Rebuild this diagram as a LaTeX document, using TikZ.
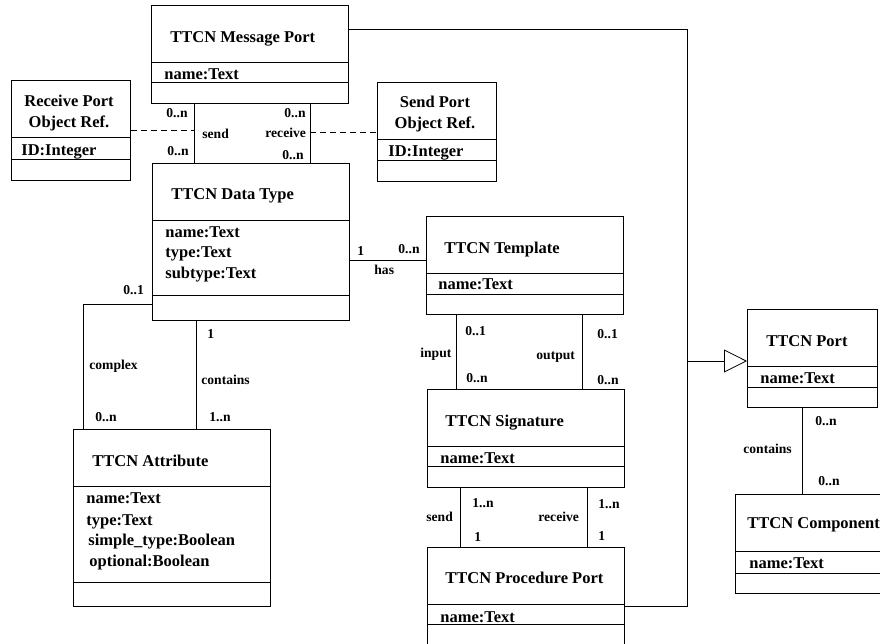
\documentclass[tikz,border=0pt]{standalone}
\usepackage{fontspec}
\setmainfont{Liberation Serif}
\usetikzlibrary{arrows.meta}

\tikzset{
  cls/.style   = {draw, line width=0.8pt, inner sep=0pt, anchor=north west},
  ttl/.style   = {font=\bfseries\fontsize{16.5}{19}\selectfont, inner sep=0pt, anchor=base west},
  ttlc/.style  = {font=\bfseries\fontsize{16.5}{19}\selectfont, inner sep=0pt, anchor=base},
  lbl/.style   = {font=\bfseries\fontsize{13.6}{16}\selectfont, inner sep=0pt, anchor=base west},
  objref/.style = {dash pattern=on 6pt off 4pt},
  gen/.style   = {-{Triangle[open,length=23pt,width=23pt]}}
}

\begin{document}
\begin{tikzpicture}[x=1pt, y=-1pt, line width=0.8pt]
\clip (0,0) rectangle (880,643);

% class boxes
\node[cls, minimum width=197pt, minimum height=98pt]  (msg)  at (151,5)   {};
\node[cls, minimum width=119pt, minimum height=100pt] (recv) at (11,80)   {};
\node[cls, minimum width=119pt, minimum height=99pt]  (send) at (377,82)  {};
\node[cls, minimum width=197pt, minimum height=157pt] (dt)   at (152,163) {};
\node[cls, minimum width=197pt, minimum height=98pt]  (tpl)  at (426,216) {};
\node[cls, minimum width=197pt, minimum height=177pt] (attr) at (73,429)  {};
\node[cls, minimum width=197pt, minimum height=98pt]  (sig)  at (427,389) {};
\node[cls, minimum width=197pt, minimum height=113pt] (proc) at (427,547) {};
\node[cls, minimum width=130pt, minimum height=98pt]  (port) at (747,309) {};
\node[cls, minimum width=155pt, minimum height=99pt]  (comp) at (735,494) {};

% compartments
\draw ([yshift=-57pt]msg.north west)  -- ([yshift=-57pt]msg.north east);
\draw ([yshift=-77pt]msg.north west)  -- ([yshift=-77pt]msg.north east);
\draw ([yshift=-57pt]recv.north west) -- ([yshift=-57pt]recv.north east);
\draw ([yshift=-79pt]recv.north west) -- ([yshift=-79pt]recv.north east);
\draw ([yshift=-57pt]send.north west) -- ([yshift=-57pt]send.north east);
\draw ([yshift=-78pt]send.north west) -- ([yshift=-78pt]send.north east);
\draw ([yshift=-57pt]dt.north west)   -- ([yshift=-57pt]dt.north east);
\draw ([yshift=-132pt]dt.north west)  -- ([yshift=-132pt]dt.north east);
\draw ([yshift=-57pt]tpl.north west)  -- ([yshift=-57pt]tpl.north east);
\draw ([yshift=-78pt]tpl.north west)  -- ([yshift=-78pt]tpl.north east);
\draw ([yshift=-57pt]attr.north west) -- ([yshift=-57pt]attr.north east);
\draw ([yshift=-153pt]attr.north west) -- ([yshift=-153pt]attr.north east);
\draw ([yshift=-57pt]sig.north west)  -- ([yshift=-57pt]sig.north east);
\draw ([yshift=-77pt]sig.north west)  -- ([yshift=-77pt]sig.north east);
\draw ([yshift=-57pt]proc.north west) -- ([yshift=-57pt]proc.north east);
\draw ([yshift=-77pt]proc.north west) -- ([yshift=-77pt]proc.north east);
\draw ([yshift=-57pt]port.north west) -- ([yshift=-57pt]port.north east);
\draw ([yshift=-78pt]port.north west) -- ([yshift=-78pt]port.north east);
\draw ([yshift=-57pt]comp.north west) -- ([yshift=-57pt]comp.north east);
\draw ([yshift=-79pt]comp.north west) -- ([yshift=-79pt]comp.north east);

% class names and attributes
\node[ttl]  (msgT)   at (170,42)  {TTCN Message Port};
\node[ttl]  (msgA)   at (164,79)  {name:Text};
\node[ttlc] (recvT1) at (69,106)  {Receive Port};
\node[ttlc] (recvT2) at (69,127)  {Object Ref.};
\node[ttl]  (recvA)  at (21,155)  {ID:Integer};
\node[ttlc] (sendT1) at (435,107) {Send Port};
\node[ttlc] (sendT2) at (435,128) {Object Ref.};
\node[ttl]  (sendA)  at (388,156) {ID:Integer};
\node[ttl]  (dtT)    at (171,199) {TTCN Data Type};
\node[ttl]  (dtA1)   at (165,237) {name:Text};
\node[ttl]  (dtA2)   at (165,257) {type:Text};
\node[ttl]  (dtA3)   at (165,278) {subtype:Text};
\node[ttl]  (tplT)   at (444,253) {TTCN Template};
\node[ttl]  (tplA)   at (438,289) {name:Text};
\node[ttl]  (attrT)  at (92,466)  {TTCN Attribute};
\node[ttl]  (attrA1) at (86,503)  {name:Text};
\node[ttl]  (attrA2) at (86,525)  {type:Text};
\node[ttl]  (attrA3) at (88,545)  {simple\_type:Boolean};
\node[ttl]  (attrA4) at (89,566)  {optional:Boolean};
\node[ttl]  (sigT)   at (445,426) {TTCN Signature};
\node[ttl]  (sigA)   at (440,463) {name:Text};
\node[ttl]  (procT)  at (445,583) {TTCN Procedure Port};
\node[ttl]  (procA)  at (440,622) {name:Text};
\node[ttl]  (portT)  at (766,346) {TTCN Port};
\node[ttl]  (portA)  at (760,383) {name:Text};
\node[ttl]  (compT)  at (747,528) {TTCN Component};
\node[ttl]  (compA)  at (749,568) {name:Text};

% generalisation to TTCN Port
\coordinate (bus) at (687,361);
\draw ([yshift=-24pt]msg.north east) -| (bus) |- ([yshift=-59pt]proc.north east);
\draw[gen] (bus) -- (bus -| port.west);

% message port -- data type
\draw ([xshift=43pt]msg.south west) -- coordinate (sendln) ([xshift=42pt]dt.north west);
\draw ([xshift=159pt]msg.south west) -- coordinate (recvln) ([xshift=158pt]dt.north west);
\draw[objref] (recv.east) -- (recv.east -| sendln);
\draw[objref] (send.west -| recvln) -- (send.west);
\node[lbl] (sendM1) at (166,117) {0..n};
\node[lbl] (sendL)  at (202,138) {send};
\node[lbl] (sendM2) at (167,155) {0..n};
\node[lbl] (recvM1) at (284,117) {0..n};
\node[lbl] (recvL)  at (265,137) {receive};
\node[lbl] (recvM2) at (282,159) {0..n};

% data type has template
\coordinate (hasS) at ([yshift=-97pt]dt.north east);
\draw (hasS) -- (hasS -| tpl.west);
\node[lbl] (hasM1) at (357,255) {1};
\node[lbl] (hasM2) at (398,253) {0..n};
\node[lbl] (hasL)  at (374,274) {has};

% data type -- attribute
\draw ([yshift=-141pt]dt.north west) -| ([xshift=10pt]attr.north west);
\draw ([xshift=44pt]dt.south west) -- ([xshift=123pt]attr.north west);
\node[lbl] (cplxM1) at (123,294) {0..1};
\node[lbl] (cplxL)  at (89,369)  {complex};
\node[lbl] (cplxM2) at (95,421)  {0..n};
\node[lbl] (contM1) at (207,338) {1};
\node[lbl] (contL)  at (201,384) {contains};
\node[lbl] (contM2) at (209,421) {1..n};

% template -- signature
\draw ([xshift=30pt]tpl.south west) -- ([xshift=29pt]sig.north west);
\draw ([xshift=156pt]tpl.south west) -- ([xshift=155pt]sig.north west);
\node[lbl] (inM1)  at (465,335) {0..1};
\node[lbl] (inL)   at (420,357) {input};
\node[lbl] (inM2)  at (466,382) {0..n};
\node[lbl] (outM1) at (597,338) {0..1};
\node[lbl] (outL)  at (536,359) {output};
\node[lbl] (outM2) at (597,384) {0..n};

% signature -- procedure port
\draw ([xshift=33pt]sig.south west) -- ([xshift=33pt]proc.north west);
\draw ([xshift=160pt]sig.south west) -- ([xshift=160pt]proc.north west);
\node[lbl] (psendM1) at (472,507) {1..n};
\node[lbl] (psendL)  at (426,521) {send};
\node[lbl] (psendM2) at (474,541) {1};
\node[lbl] (precvM1) at (598,508) {1..n};
\node[lbl] (precvL)  at (538,521) {receive};
\node[lbl] (precvM2) at (598,540) {1};

% port contains component
\draw ([xshift=55pt]port.south west) -- ([xshift=67pt]comp.north west);
\node[lbl] (pcM1) at (815,425) {0..n};
\node[lbl] (pcL)  at (743,453) {contains};
\node[lbl] (pcM2) at (818,485) {0..n};

\end{tikzpicture}
\end{document}
